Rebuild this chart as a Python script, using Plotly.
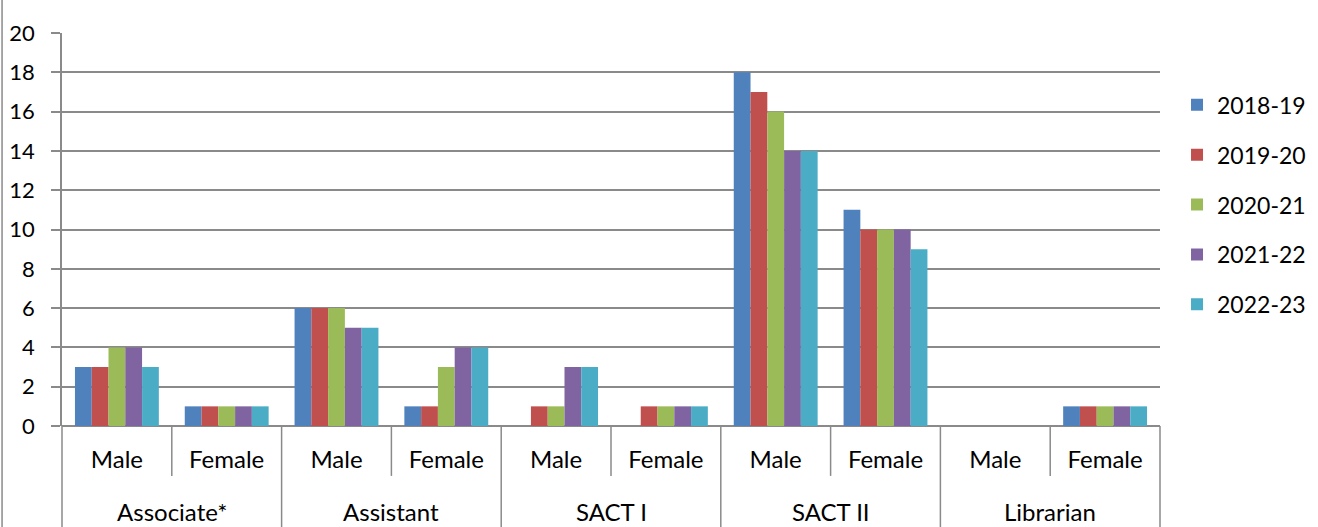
import plotly.graph_objects as go

# Staff counts by post and sex, academic years 2018-19 to 2022-23
posts = ["Associate*", "Assistant", "SACT I", "SACT II", "Librarian"]
sexes = ["Male", "Female"]
years = ["2018-19", "2019-20", "2020-21", "2021-22", "2022-23"]

# one list per year, ordered post by post, Male then Female
y2018_19 = [3, 1, 6, 1, 0, 0, 18, 11, 0, 1]
y2019_20 = [3, 1, 6, 1, 1, 1, 17, 10, 0, 1]
y2020_21 = [4, 1, 6, 3, 1, 1, 16, 10, 0, 1]
y2021_22 = [4, 1, 5, 4, 3, 1, 14, 10, 0, 1]
y2022_23 = [3, 1, 5, 4, 3, 1, 14, 9, 0, 1]
series = [y2018_19, y2019_20, y2020_21, y2021_22, y2022_23]

colors = ["#4F81BD", "#C0504D", "#9BBB59", "#8064A2", "#4BACC6"]

y_ticks = list(range(0, 21, 2))

cats = [f"{p}|{s}" for p in posts for s in sexes]
cat_labels = [s for p in posts for s in sexes]

FONT = "Lato"
GRID = "#8a8a8a"

fig = go.Figure()
for name, vals, col in zip(years, series, colors):
    fig.add_trace(go.Bar(
        x=cats, y=vals, name=name, legendgroup=name,
        marker=dict(color=col, line=dict(width=0)),
    ))

n = len(cats)
shapes = []
# short dividers between Male and Female within each post
for i in range(len(posts)):
    shapes.append(dict(type="line", xref="x", yref="paper",
                       x0=2 * i + 0.5, x1=2 * i + 0.5, y0=0, y1=-0.127,
                       line=dict(color=GRID, width=1.5)))
# full-height dividers between posts (edges in paper space to avoid clipping)
for i in range(len(posts) + 1):
    if i == 0:
        xr, xv = "paper", 0
    elif i == len(posts):
        xr, xv = "paper", 1
    else:
        xr, xv = "x", 2 * i - 0.5
    shapes.append(dict(type="line", xref=xr, yref="paper",
                       x0=xv, x1=xv, y0=0, y1=-0.26,
                       line=dict(color=GRID, width=1.5)))
# outer chart border on the left
shapes.append(dict(type="line", xref="paper", yref="paper",
                   x0=-0.0546, x1=-0.0546, y0=-0.26, y1=1.09,
                   line=dict(color=GRID, width=1.5)))

annotations = []
for i, p in enumerate(posts):
    annotations.append(dict(x=2 * i + 0.5, xref="x", y=-0.217, yref="paper",
                            text=p, showarrow=False, yanchor="middle",
                            font=dict(family=FONT, size=24, color="black")))

fig.update_layout(
    barmode="group",
    bargap=0.236,
    bargroupgap=0,
    width=1318, height=527,
    margin=dict(l=62, r=158, t=33, b=101, autoexpand=False),
    paper_bgcolor="white", plot_bgcolor="white",
    font=dict(family=FONT, size=22, color="black"),
    showlegend=True,
    legend=dict(x=1.0155, y=0.872, xanchor="left", yanchor="top",
                font=dict(family=FONT, size=23, color="black"),
                tracegroupgap=17, itemwidth=30, bgcolor="rgba(0,0,0,0)"),
    shapes=shapes,
    annotations=annotations,
    xaxis=dict(
        type="category", range=[-0.5, n - 0.5],
        tickmode="array", tickvals=cats, ticktext=cat_labels,
        ticks="", showgrid=False, showline=False, zeroline=False,
        ticklabelstandoff=17,
        tickfont=dict(family=FONT, size=24, color="black"),
    ),
    yaxis=dict(
        range=[0, 20], tickmode="array", tickvals=y_ticks,
        ticks="outside", ticklen=9, tickcolor=GRID, tickwidth=1.5,
        showgrid=True, gridcolor=GRID, gridwidth=1.5,
        showline=True, linecolor=GRID, linewidth=1.5,
        zeroline=True, zerolinecolor=GRID, zerolinewidth=1.5,
        ticklabelstandoff=12,
        tickfont=dict(family=FONT, size=22, color="black"),
    ),
)

fig.write_html("out.html")
